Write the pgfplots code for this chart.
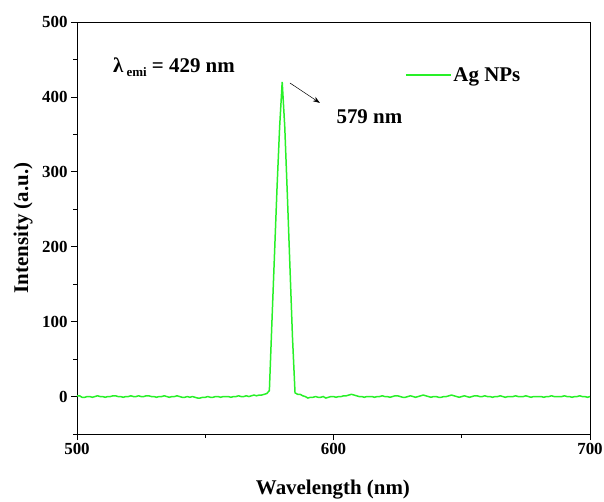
\documentclass[border=0pt]{standalone}
\usepackage{fontspec}
\setmainfont{Liberation Serif}
\usepackage{pgfplots}
\pgfplotsset{compat=1.18}
\usepackage{pgfplotstable}
\usetikzlibrary{arrows.meta}
\definecolor{limeg}{RGB}{40,240,40}
\pgfplotstableread{
x y
500 1
501 1
502 -1
503 -1
504 0
505 0
506 -1
507 0
508 1
509 0
510 0
511 -1
512 0
513 0
514 1
515 1
516 0
517 0
518 -1
519 0
520 0
521 1
522 0
523 0
524 1
525 0
526 0
527 1
528 1
529 0
530 0
531 -1
532 0
533 0
534 1
535 0
536 -1
537 0
538 0
539 1
540 0
541 -1
542 -1
543 0
544 -1
545 0
546 -1
547 -2
548 -2
549 -1
550 -1
551 0
552 -1
553 -1
554 0
555 0
556 -1
557 0
558 0
559 0
560 -1
561 0
562 0
563 1
564 0
565 0
566 1
567 0
568 1
569 2
570 1
571 2
572 2
573 3
574 4
575 8
576 100
577 190
578 280
579 360
580 420
581 360
582 270
583 175
584 80
585 5
586 3
587 3
588 1
589 0
590 -2
591 -1
592 -1
593 0
594 -1
595 -1
596 0
597 -2
598 -1
599 0
600 0
601 -1
602 0
603 0
604 1
605 1
606 2
607 3
608 2
609 1
610 0
611 0
612 -1
613 0
614 0
615 0
616 -1
617 0
618 0
619 1
620 0
621 0
622 -1
623 0
624 1
625 1
626 0
627 -1
628 -1
629 0
630 1
631 0
632 -1
633 0
634 1
635 2
636 1
637 0
638 -1
639 0
640 0
641 -1
642 -1
643 0
644 0
645 1
646 2
647 1
648 0
649 -1
650 0
651 1
652 0
653 -1
654 0
655 1
656 1
657 0
658 0
659 1
660 0
661 0
662 -1
663 0
664 0
665 1
666 0
667 -1
668 0
669 0
670 0
671 1
672 0
673 0
674 0
675 1
676 0
677 -1
678 0
679 0
680 0
681 0
682 -1
683 0
684 0
685 1
686 0
687 0
688 0
689 0
690 1
691 0
692 0
693 -1
694 0
695 0
696 1
697 0
698 0
699 -1
700 0
}\spectrum
\begin{document}
\begin{tikzpicture}
\useasboundingbox (-77bp,-68bp) rectangle (527bp,434bp);
\begin{axis}[
  at={(0,0)}, anchor=south west,
  scale only axis,
  width=513bp, height=412bp,
  xmin=500, xmax=700, ymin=-50, ymax=500,
  xtick={500,600,700}, ytick={0,100,200,300,400,500},
  minor xtick={550,650}, minor ytick={-50,50,150,250,350,450},
  tick align=outside,
  xtick pos=bottom, ytick pos=left,
  major tick length=6bp, minor tick length=3.5bp,
  every tick/.style={black, line width=0.8pt},
  axis line style={line width=1pt},
  /pgf/number format/assume math mode=true,
  tick label style={font=\fontsize{17}{19}\selectfont\bfseries},
  xlabel={Wavelength (nm)},
  ylabel={Intensity (a.u.)},
  every axis x label/.style={at={(axis description cs:0.499,-0.136)}, anchor=center, font=\fontsize{21}{24}\selectfont\bfseries},
  every axis y label/.style={at={(axis description cs:-0.105,0.5)}, rotate=90, anchor=center, font=\fontsize{21}{24}\selectfont\bfseries},
  legend style={draw=none, fill=none, at={(0.639,0.871)}, anchor=west,
    font=\fontsize{21}{24}\selectfont\bfseries, inner sep=0pt},
  legend image code/.code={\draw[#1] (0bp,0bp) -- (45bp,0bp);},
  clip=false,
]
\addplot[limeg, line width=1.5pt] table[x=x,y=y] {\spectrum};
\addlegendentry{Ag NPs}
\node[font=\fontsize{21}{24}\selectfont\bfseries] at (axis cs:537.8,440) {λ\raisebox{-0.45ex}{\fontsize{13}{14}\selectfont\ emi} = 429 nm};
\draw[-{Stealth[length=7bp,width=5bp]}, line width=0.5pt] (axis cs:583,418.6) -- (axis cs:594.7,392);
\node[font=\fontsize{21}{24}\selectfont\bfseries] at (axis cs:614,373) {579 nm};
\end{axis}
\end{tikzpicture}
\end{document}
